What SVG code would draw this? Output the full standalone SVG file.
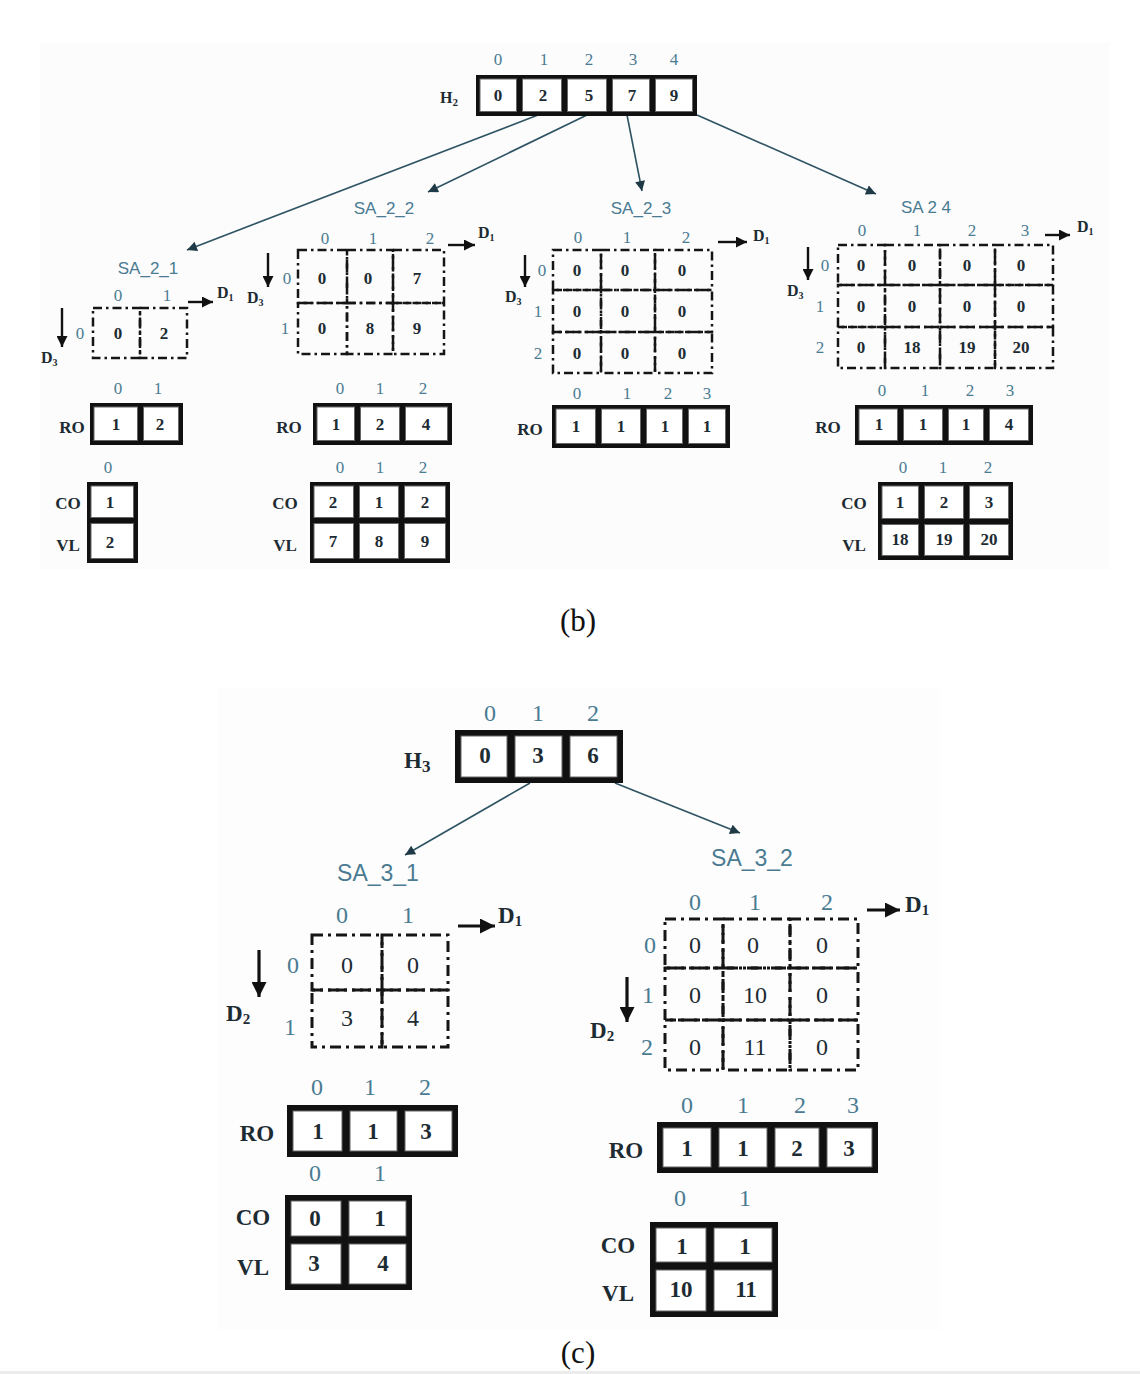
<svg xmlns="http://www.w3.org/2000/svg" width="1140" height="1374" viewBox="0 0 1140 1374">
<style>
.idx{font-family:"Liberation Serif",serif;font-size:17px;fill:#4a7b92;text-anchor:middle;dominant-baseline:central}
.val{font-family:"Liberation Serif",serif;font-weight:bold;font-size:17px;fill:#1d2b33;text-anchor:middle;dominant-baseline:central}
.lbl{font-family:"Liberation Serif",serif;font-weight:bold;font-size:17px;fill:#1d2b33;text-anchor:middle;dominant-baseline:central}
.dl{font-family:"Liberation Serif",serif;font-weight:bold;font-size:16px;fill:#1d2b33}
.sa{font-family:"Liberation Sans",sans-serif;font-size:17px;fill:#4a7b92;text-anchor:middle;dominant-baseline:central}
.idx2{font-family:"Liberation Serif",serif;font-size:24px;fill:#4a7b92;text-anchor:middle;dominant-baseline:central}
.val2{font-family:"Liberation Serif",serif;font-size:24px;fill:#1d2b33;text-anchor:middle;dominant-baseline:central}
.valb2{font-family:"Liberation Serif",serif;font-weight:bold;font-size:23px;fill:#1d2b33;text-anchor:middle;dominant-baseline:central}
.lbl2{font-family:"Liberation Serif",serif;font-weight:bold;font-size:23px;fill:#1d2b33;text-anchor:middle;dominant-baseline:central}
.dl2{font-family:"Liberation Serif",serif;font-weight:bold;font-size:23px;fill:#1d2b33}
.sa2{font-family:"Liberation Sans",sans-serif;font-size:23px;fill:#4a7b92;text-anchor:middle;dominant-baseline:central}
.cap{font-family:"Liberation Serif",serif;font-size:31px;fill:#111;text-anchor:middle;dominant-baseline:central}
.frame{fill:#111}
.cell{fill:#fff;stroke:#666;stroke-width:1}
.dg{fill:none;stroke:#151515;stroke-width:2.5;stroke-dasharray:9 4 2.5 4}
.dg2{fill:none;stroke:#151515;stroke-width:3;stroke-dasharray:11 5 3 5}
.con{fill:none;stroke:#2e5363;stroke-width:1.6}
.da{fill:none;stroke:#111;stroke-width:2.4}
.da2{fill:none;stroke:#111;stroke-width:3.2}
</style>
<defs>
<marker id="ah" viewBox="0 0 10 10" refX="10" refY="5" markerWidth="13" markerHeight="10" markerUnits="userSpaceOnUse" orient="auto"><path d="M0,0 L10,5 L0,10 z" fill="#1f3a46"/></marker>
<marker id="ahd" viewBox="0 0 10 10" refX="10" refY="5" markerWidth="11" markerHeight="11" markerUnits="userSpaceOnUse" orient="auto"><path d="M0,0 L10,5 L0,10 z" fill="#111"/></marker>
<marker id="ahd2" viewBox="0 0 10 10" refX="10" refY="5" markerWidth="15" markerHeight="15" markerUnits="userSpaceOnUse" orient="auto"><path d="M0,0 L10,5 L0,10 z" fill="#111"/></marker>
</defs>
<rect x="0" y="0" width="1140" height="1374" fill="#fff"/>
<rect x="40" y="42" width="1070" height="527" fill="#fcfcfc"/>
<rect x="218" y="688" width="722" height="642" fill="#fdfdfd"/>
<rect x="0" y="1371" width="1140" height="3" fill="#ebebeb"/>

<g id="connectors">
<path class="con" d="M538,115 L187,250" marker-end="url(#ah)"/>
<path class="con" d="M587,115 L428,192" marker-end="url(#ah)"/>
<path class="con" d="M627,115 L642,191" marker-end="url(#ah)"/>
<path class="con" d="M697,115 L876,194" marker-end="url(#ah)"/>
<path class="con" d="M530,783 L405,855" marker-end="url(#ah)"/>
<path class="con" d="M615,783 L740,833" marker-end="url(#ah)"/>
</g>

<!-- Figure (b) -->
<g id="H2">
<text class="dl" x="440" y="103" font-size="17">H<tspan font-size="11" dy="3">2</tspan></text>
<text class="idx" x="498" y="59">0</text><text class="idx" x="544" y="59">1</text><text class="idx" x="589" y="59">2</text><text class="idx" x="633" y="59">3</text><text class="idx" x="674" y="59">4</text>
<rect class="frame" x="476" y="75" width="221" height="41"/>
<rect class="cell" x="480" y="79" width="36.5" height="32.5"/>
<rect class="cell" x="522.5" y="79" width="39" height="32.5"/>
<rect class="cell" x="567.5" y="79" width="39" height="32.5"/>
<rect class="cell" x="612.5" y="79" width="37" height="32.5"/>
<rect class="cell" x="655.5" y="79" width="37" height="32.5"/>
<text class="val" x="498" y="95">0</text><text class="val" x="543" y="95">2</text><text class="val" x="589" y="95">5</text><text class="val" x="632" y="95">7</text><text class="val" x="674" y="95">9</text>
</g>

<g id="SA_2_1">
<text class="sa" x="148" y="268">SA_2_1</text>
<text class="idx" x="118" y="295">0</text><text class="idx" x="167" y="295">1</text>
<text class="idx" x="80" y="333">0</text>
<rect class="dg" x="93" y="308" width="47" height="50"/>
<rect class="dg" x="140" y="308" width="47" height="50"/>
<text class="val" x="118" y="333">0</text><text class="val" x="164" y="333">2</text>
<path class="da" d="M62,308 L62,347" marker-end="url(#ahd)"/>
<text class="dl" x="41" y="363">D<tspan font-size="10" dy="3">3</tspan></text>
<path class="da" d="M188,302 L213,302" marker-end="url(#ahd)"/>
<text class="dl" x="217" y="298">D<tspan font-size="10" dy="3">1</tspan></text>
</g>
<g id="RO_2_1">
<text class="idx" x="118" y="388">0</text><text class="idx" x="158" y="388">1</text>
<text class="lbl" x="72" y="427">RO</text>
<rect class="frame" x="90" y="403" width="93" height="42"/>
<rect class="cell" x="94" y="407" width="43.5" height="33.5"/>
<rect class="cell" x="143.5" y="407" width="35" height="33.5"/>
<text class="val" x="116" y="424">1</text><text class="val" x="160" y="424">2</text>
</g>
<g id="COVL_2_1">
<text class="idx" x="108" y="467">0</text>
<text class="lbl" x="68" y="503">CO</text><text class="lbl" x="68" y="545">VL</text>
<rect class="frame" x="87" y="482" width="51" height="81"/>
<rect class="cell" x="91" y="486" width="42.5" height="31.5"/>
<rect class="cell" x="91" y="523.5" width="42.5" height="35"/>
<text class="val" x="110" y="502">1</text><text class="val" x="110" y="542">2</text>
</g>

<g id="SA_2_2">
<text class="sa" x="384" y="208">SA_2_2</text>
<text class="idx" x="325" y="238">0</text><text class="idx" x="373" y="238">1</text><text class="idx" x="430" y="238">2</text>
<text class="idx" x="287" y="278">0</text><text class="idx" x="285" y="328">1</text>
<rect class="dg" x="298" y="250" width="49" height="53"/>
<rect class="dg" x="347" y="250" width="46" height="53"/>
<rect class="dg" x="393" y="250" width="51" height="53"/>
<rect class="dg" x="298" y="303" width="49" height="51"/>
<rect class="dg" x="347" y="303" width="46" height="51"/>
<rect class="dg" x="393" y="303" width="51" height="51"/>
<text class="val" x="322" y="278">0</text><text class="val" x="368" y="278">0</text><text class="val" x="417" y="278">7</text>
<text class="val" x="322" y="328">0</text><text class="val" x="370" y="328">8</text><text class="val" x="417" y="328">9</text>
<path class="da" d="M268,253 L268,287" marker-end="url(#ahd)"/>
<text class="dl" x="247" y="303">D<tspan font-size="10" dy="3">3</tspan></text>
<path class="da" d="M448,245 L475,245" marker-end="url(#ahd)"/>
<text class="dl" x="478" y="238">D<tspan font-size="10" dy="3">1</tspan></text>
</g>
<g id="RO_2_2">
<text class="idx" x="340" y="388">0</text><text class="idx" x="380" y="388">1</text><text class="idx" x="423" y="388">2</text>
<text class="lbl" x="289" y="427">RO</text>
<rect class="frame" x="313" y="403" width="139" height="42"/>
<rect class="cell" x="317" y="407" width="37.5" height="33.5"/>
<rect class="cell" x="360.5" y="407" width="39" height="33.5"/>
<rect class="cell" x="405.5" y="407" width="42" height="33.5"/>
<text class="val" x="336" y="424">1</text><text class="val" x="380" y="424">2</text><text class="val" x="426" y="424">4</text>
</g>
<g id="COVL_2_2">
<text class="idx" x="340" y="467">0</text><text class="idx" x="380" y="467">1</text><text class="idx" x="423" y="467">2</text>
<text class="lbl" x="285" y="503">CO</text><text class="lbl" x="285" y="545">VL</text>
<rect class="frame" x="310" y="482" width="140" height="81"/>
<rect class="cell" x="314" y="486" width="39.5" height="31.5"/>
<rect class="cell" x="359.5" y="486" width="39" height="31.5"/>
<rect class="cell" x="404.5" y="486" width="41" height="31.5"/>
<rect class="cell" x="314" y="523.5" width="39.5" height="35"/>
<rect class="cell" x="359.5" y="523.5" width="39" height="35"/>
<rect class="cell" x="404.5" y="523.5" width="41" height="35"/>
<text class="val" x="333" y="502">2</text><text class="val" x="379" y="502">1</text><text class="val" x="425" y="502">2</text>
<text class="val" x="333" y="541">7</text><text class="val" x="379" y="541">8</text><text class="val" x="425" y="541">9</text>
</g>

<g id="SA_2_3">
<text class="sa" x="641" y="208">SA_2_3</text>
<text class="idx" x="578" y="237">0</text><text class="idx" x="627" y="237">1</text><text class="idx" x="686" y="237">2</text>
<text class="idx" x="542" y="270">0</text><text class="idx" x="538" y="311">1</text><text class="idx" x="538" y="353">2</text>
<rect class="dg" x="553" y="250" width="48" height="40"/>
<rect class="dg" x="601" y="250" width="54" height="40"/>
<rect class="dg" x="655" y="250" width="57" height="40"/>
<rect class="dg" x="553" y="290" width="48" height="42"/>
<rect class="dg" x="601" y="290" width="54" height="42"/>
<rect class="dg" x="655" y="290" width="57" height="42"/>
<rect class="dg" x="553" y="332" width="48" height="41"/>
<rect class="dg" x="601" y="332" width="54" height="41"/>
<rect class="dg" x="655" y="332" width="57" height="41"/>
<text class="val" x="577" y="270">0</text><text class="val" x="625" y="270">0</text><text class="val" x="682" y="270">0</text>
<text class="val" x="577" y="311">0</text><text class="val" x="625" y="311">0</text><text class="val" x="682" y="311">0</text>
<text class="val" x="577" y="353">0</text><text class="val" x="625" y="353">0</text><text class="val" x="682" y="353">0</text>
<path class="da" d="M525,255 L525,287" marker-end="url(#ahd)"/>
<text class="dl" x="505" y="302">D<tspan font-size="10" dy="3">3</tspan></text>
<path class="da" d="M718,242 L747,242" marker-end="url(#ahd)"/>
<text class="dl" x="753" y="241">D<tspan font-size="10" dy="3">1</tspan></text>
</g>
<g id="RO_2_3">
<text class="idx" x="577" y="393">0</text><text class="idx" x="627" y="393">1</text><text class="idx" x="668" y="393">2</text><text class="idx" x="707" y="393">3</text>
<text class="lbl" x="530" y="429">RO</text>
<rect class="frame" x="552" y="405" width="178" height="43"/>
<rect class="cell" x="556" y="409" width="39.5" height="34.5"/>
<rect class="cell" x="601.5" y="409" width="39" height="34.5"/>
<rect class="cell" x="646.5" y="409" width="36" height="34.5"/>
<rect class="cell" x="688.5" y="409" width="37" height="34.5"/>
<text class="val" x="576" y="426">1</text><text class="val" x="621" y="426">1</text><text class="val" x="665" y="426">1</text><text class="val" x="707" y="426">1</text>
</g>

<g id="SA_2_4">
<text class="sa" x="926" y="207">SA 2 4</text>
<text class="idx" x="862" y="230">0</text><text class="idx" x="917" y="230">1</text><text class="idx" x="972" y="230">2</text><text class="idx" x="1025" y="230">3</text>
<text class="idx" x="825" y="265">0</text><text class="idx" x="820" y="306">1</text><text class="idx" x="820" y="347">2</text>
<rect class="dg" x="838" y="245" width="47" height="40"/>
<rect class="dg" x="885" y="245" width="55" height="40"/>
<rect class="dg" x="940" y="245" width="55" height="40"/>
<rect class="dg" x="995" y="245" width="58" height="40"/>
<rect class="dg" x="838" y="285" width="47" height="42"/>
<rect class="dg" x="885" y="285" width="55" height="42"/>
<rect class="dg" x="940" y="285" width="55" height="42"/>
<rect class="dg" x="995" y="285" width="58" height="42"/>
<rect class="dg" x="838" y="327" width="47" height="41"/>
<rect class="dg" x="885" y="327" width="55" height="41"/>
<rect class="dg" x="940" y="327" width="55" height="41"/>
<rect class="dg" x="995" y="327" width="58" height="41"/>
<text class="val" x="861" y="265">0</text><text class="val" x="912" y="265">0</text><text class="val" x="967" y="265">0</text><text class="val" x="1021" y="265">0</text>
<text class="val" x="861" y="306">0</text><text class="val" x="912" y="306">0</text><text class="val" x="967" y="306">0</text><text class="val" x="1021" y="306">0</text>
<text class="val" x="861" y="347">0</text><text class="val" x="912" y="347">18</text><text class="val" x="967" y="347">19</text><text class="val" x="1021" y="347">20</text>
<path class="da" d="M808,247 L808,280" marker-end="url(#ahd)"/>
<text class="dl" x="787" y="296">D<tspan font-size="10" dy="3">3</tspan></text>
<path class="da" d="M1045,235 L1070,235" marker-end="url(#ahd)"/>
<text class="dl" x="1077" y="232">D<tspan font-size="10" dy="3">1</tspan></text>
</g>
<g id="RO_2_4">
<text class="idx" x="882" y="390">0</text><text class="idx" x="925" y="390">1</text><text class="idx" x="970" y="390">2</text><text class="idx" x="1010" y="390">3</text>
<text class="lbl" x="828" y="427">RO</text>
<rect class="frame" x="855" y="405" width="178" height="40"/>
<rect class="cell" x="859" y="409" width="38.5" height="31.5"/>
<rect class="cell" x="903.5" y="409" width="39" height="31.5"/>
<rect class="cell" x="948.5" y="409" width="35" height="31.5"/>
<rect class="cell" x="989.5" y="409" width="39" height="31.5"/>
<text class="val" x="879" y="424">1</text><text class="val" x="923" y="424">1</text><text class="val" x="966" y="424">1</text><text class="val" x="1009" y="424">4</text>
</g>
<g id="COVL_2_4">
<text class="idx" x="903" y="467">0</text><text class="idx" x="943" y="467">1</text><text class="idx" x="988" y="467">2</text>
<text class="lbl" x="854" y="503">CO</text><text class="lbl" x="854" y="545">VL</text>
<rect class="frame" x="878" y="482" width="135" height="78"/>
<rect class="cell" x="882" y="486" width="36.5" height="32.5"/>
<rect class="cell" x="924.5" y="486" width="39" height="32.5"/>
<rect class="cell" x="969.5" y="486" width="39" height="32.5"/>
<rect class="cell" x="882" y="524.5" width="36.5" height="31"/>
<rect class="cell" x="924.5" y="524.5" width="39" height="31"/>
<rect class="cell" x="969.5" y="524.5" width="39" height="31"/>
<text class="val" x="900" y="502">1</text><text class="val" x="944" y="502">2</text><text class="val" x="989" y="502">3</text>
<text class="val" x="900" y="539">18</text><text class="val" x="944" y="539">19</text><text class="val" x="989" y="539">20</text>
</g>
<text class="cap" x="578" y="620">(b)</text>

<!-- Figure (c) -->
<g id="H3">
<text class="dl2" x="404" y="768" font-size="25">H<tspan font-size="17" dy="4">3</tspan></text>
<text class="idx2" x="490" y="713">0</text><text class="idx2" x="538" y="713">1</text><text class="idx2" x="593" y="713">2</text>
<rect class="frame" x="455" y="730" width="168" height="53"/>
<rect class="cell" x="461" y="736" width="46" height="41"/>
<rect class="cell" x="515" y="736" width="47" height="41"/>
<rect class="cell" x="570" y="736" width="47" height="41"/>
<text class="valb2" x="485" y="755">0</text><text class="valb2" x="538" y="755">3</text><text class="valb2" x="593" y="755">6</text>
</g>

<g id="SA_3_1">
<text class="sa2" x="378" y="873">SA_3_1</text>
<text class="idx2" x="342" y="915">0</text><text class="idx2" x="408" y="915">1</text>
<text class="idx2" x="293" y="965">0</text><text class="idx2" x="290" y="1027">1</text>
<rect class="dg2" x="312" y="935" width="70" height="55"/>
<rect class="dg2" x="382" y="935" width="66" height="55"/>
<rect class="dg2" x="312" y="990" width="70" height="57"/>
<rect class="dg2" x="382" y="990" width="66" height="57"/>
<text class="val2" x="347" y="965">0</text><text class="val2" x="413" y="965">0</text>
<text class="val2" x="347" y="1018">3</text><text class="val2" x="413" y="1018">4</text>
<path class="da2" d="M259,950 L259,997" marker-end="url(#ahd2)"/>
<text class="dl2" x="226" y="1021">D<tspan font-size="15" dy="3">2</tspan></text>
<path class="da2" d="M458,926 L495,926" marker-end="url(#ahd2)"/>
<text class="dl2" x="498" y="923">D<tspan font-size="15" dy="3">1</tspan></text>
</g>
<g id="RO_3_1">
<text class="idx2" x="317" y="1087">0</text><text class="idx2" x="370" y="1087">1</text><text class="idx2" x="425" y="1087">2</text>
<text class="lbl2" x="257" y="1133">RO</text>
<rect class="frame" x="287" y="1105" width="171" height="52"/>
<rect class="cell" x="293" y="1111" width="49" height="40"/>
<rect class="cell" x="350" y="1111" width="47" height="40"/>
<rect class="cell" x="405" y="1111" width="47" height="40"/>
<text class="valb2" x="318" y="1131">1</text><text class="valb2" x="373" y="1131">1</text><text class="valb2" x="426" y="1131">3</text>
</g>
<g id="COVL_3_1">
<text class="idx2" x="315" y="1173">0</text><text class="idx2" x="380" y="1173">1</text>
<text class="lbl2" x="253" y="1217">CO</text><text class="lbl2" x="253" y="1267">VL</text>
<rect class="frame" x="285" y="1195" width="127" height="95"/>
<rect class="cell" x="291" y="1201" width="50" height="35"/>
<rect class="cell" x="349" y="1201" width="57" height="35"/>
<rect class="cell" x="291" y="1244" width="50" height="40"/>
<rect class="cell" x="349" y="1244" width="57" height="40"/>
<text class="valb2" x="315" y="1218">0</text><text class="valb2" x="380" y="1218">1</text>
<text class="valb2" x="314" y="1263">3</text><text class="valb2" x="383" y="1263">4</text>
</g>

<g id="SA_3_2">
<text class="sa2" x="752" y="858">SA_3_2</text>
<text class="idx2" x="695" y="902">0</text><text class="idx2" x="755" y="902">1</text><text class="idx2" x="827" y="902">2</text>
<text class="idx2" x="650" y="945">0</text><text class="idx2" x="648" y="995">1</text><text class="idx2" x="647" y="1047">2</text>
<rect class="dg2" x="665" y="919" width="58" height="49"/>
<rect class="dg2" x="723" y="919" width="67" height="49"/>
<rect class="dg2" x="790" y="919" width="68" height="49"/>
<rect class="dg2" x="665" y="968" width="58" height="52"/>
<rect class="dg2" x="723" y="968" width="67" height="52"/>
<rect class="dg2" x="790" y="968" width="68" height="52"/>
<rect class="dg2" x="665" y="1020" width="58" height="50"/>
<rect class="dg2" x="723" y="1020" width="67" height="50"/>
<rect class="dg2" x="790" y="1020" width="68" height="50"/>
<text class="val2" x="695" y="945">0</text><text class="val2" x="753" y="945">0</text><text class="val2" x="822" y="945">0</text>
<text class="val2" x="695" y="995">0</text><text class="val2" x="755" y="995">10</text><text class="val2" x="822" y="995">0</text>
<text class="val2" x="695" y="1047">0</text><text class="val2" x="755" y="1047">11</text><text class="val2" x="822" y="1047">0</text>
<path class="da2" d="M627,977 L627,1022" marker-end="url(#ahd2)"/>
<text class="dl2" x="590" y="1038">D<tspan font-size="15" dy="3">2</tspan></text>
<path class="da2" d="M867,910 L900,910" marker-end="url(#ahd2)"/>
<text class="dl2" x="905" y="912">D<tspan font-size="15" dy="3">1</tspan></text>
</g>
<g id="RO_3_2">
<text class="idx2" x="687" y="1105">0</text><text class="idx2" x="743" y="1105">1</text><text class="idx2" x="800" y="1105">2</text><text class="idx2" x="853" y="1105">3</text>
<text class="lbl2" x="626" y="1150">RO</text>
<rect class="frame" x="657" y="1122" width="221" height="51"/>
<rect class="cell" x="663" y="1128" width="48" height="39"/>
<rect class="cell" x="719" y="1128" width="48" height="39"/>
<rect class="cell" x="775" y="1128" width="44" height="39"/>
<rect class="cell" x="827" y="1128" width="45" height="39"/>
<text class="valb2" x="687" y="1148">1</text><text class="valb2" x="743" y="1148">1</text><text class="valb2" x="797" y="1148">2</text><text class="valb2" x="849" y="1148">3</text>
</g>
<g id="COVL_3_2">
<text class="idx2" x="680" y="1198">0</text><text class="idx2" x="745" y="1198">1</text>
<text class="lbl2" x="618" y="1245">CO</text><text class="lbl2" x="618" y="1293">VL</text>
<rect class="frame" x="650" y="1222" width="128" height="95"/>
<rect class="cell" x="656" y="1228" width="50" height="34"/>
<rect class="cell" x="714" y="1228" width="58" height="34"/>
<rect class="cell" x="656" y="1270" width="50" height="41"/>
<rect class="cell" x="714" y="1270" width="58" height="41"/>
<text class="valb2" x="682" y="1246">1</text><text class="valb2" x="745" y="1246">1</text>
<text class="valb2" x="681" y="1289">10</text><text class="valb2" x="746" y="1289">11</text>
</g>
<text class="cap" x="578" y="1352">(c)</text>
</svg>
